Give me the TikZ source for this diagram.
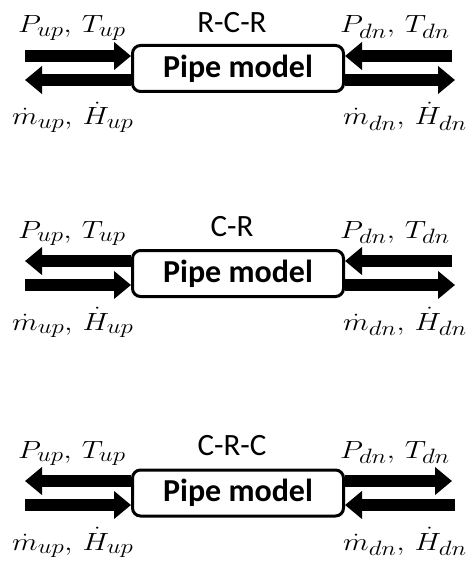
\documentclass[tikz,border=0pt]{standalone}
\usepackage{graphicx}
\usepackage{fontspec}
\newfontfamily\calibri{Carlito}
\usetikzlibrary{arrows.meta}
\newcommand{\wvar}[1]{\scalebox{1.2}[1]{$#1$}}
\begin{document}
\begin{tikzpicture}[x=1pt,y=-1pt,
  pipebox/.style={draw, line width=3pt, rounded corners=8pt, minimum width=211pt,
    minimum height=46pt, inner sep=0pt, font=\fontsize{32}{36}\selectfont\calibri\bfseries},
  flow/.style={line width=12pt, -{Triangle[length=17pt,width=27pt]}},
  ctitle/.style={font=\fontsize{31}{36}\selectfont\calibri, inner sep=0pt},
  var/.style={font=\fontsize{28}{32}\selectfont, inner sep=0pt, anchor=base west}]
\useasboundingbox (0,0) rectangle (473,564);
% ---------- panel 1: R-C-R
\node[pipebox] (b1) at (238,68.5) {Pipe model};
\node[ctitle] (t1) at (232,23) {R-C-R};
\coordinate (p1a) at (25,56);
\coordinate (p1b) at (25,80);
\coordinate (p1c) at (452,56);
\coordinate (p1d) at (455,80);
\draw[flow] (p1a) -- (p1a -| b1.west);
\draw[flow] (p1b -| b1.west) -- (p1b);
\draw[flow] (p1c) -- (p1c -| b1.east);
\draw[flow] (p1d -| b1.east) -- (p1d);
\node[var] (l1a) at (18,33) {\wvar{P_{up},\,T_{up}}};
\node[var] (l1b) at (340,33) {\wvar{P_{dn},\,T_{dn}}};
\node[var] (l1c) at (12,125) {\wvar{\dot{m}_{up},\,\dot{H}_{up}}};
\node[var] (l1d) at (343,125) {\wvar{\dot{m}_{dn},\,\dot{H}_{dn}}};
% ---------- panel 2: C-R
\node[pipebox] (b2) at (238,273.5) {Pipe model};
\node[ctitle] (t2) at (232,227) {C-R};
\coordinate (p2a) at (25,261);
\coordinate (p2b) at (25,285);
\coordinate (p2c) at (452,261);
\coordinate (p2d) at (455,285);
\draw[flow] (p2a -| b2.west) -- (p2a);
\draw[flow] (p2b) -- (p2b -| b2.west);
\draw[flow] (p2c) -- (p2c -| b2.east);
\draw[flow] (p2d -| b2.east) -- (p2d);
\node[var] (l2a) at (18,238) {\wvar{P_{up},\,T_{up}}};
\node[var] (l2b) at (340,238) {\wvar{P_{dn},\,T_{dn}}};
\node[var] (l2c) at (12,330) {\wvar{\dot{m}_{up},\,\dot{H}_{up}}};
\node[var] (l2d) at (343,330) {\wvar{\dot{m}_{dn},\,\dot{H}_{dn}}};
% ---------- panel 3: C-R-C
\node[pipebox] (b3) at (238,493) {Pipe model};
\node[ctitle] (t3) at (232,446) {C-R-C};
\coordinate (p3a) at (25,481);
\coordinate (p3b) at (25,505);
\coordinate (p3c) at (452,481);
\coordinate (p3d) at (455,505);
\draw[flow] (p3a -| b3.west) -- (p3a);
\draw[flow] (p3b) -- (p3b -| b3.west);
\draw[flow] (p3c -| b3.east) -- (p3c);
\draw[flow] (p3d) -- (p3d -| b3.east);
\node[var] (l3a) at (18,458) {\wvar{P_{up},\,T_{up}}};
\node[var] (l3b) at (340,458) {\wvar{P_{dn},\,T_{dn}}};
\node[var] (l3c) at (12,550) {\wvar{\dot{m}_{up},\,\dot{H}_{up}}};
\node[var] (l3d) at (343,550) {\wvar{\dot{m}_{dn},\,\dot{H}_{dn}}};
\end{tikzpicture}
\end{document}
